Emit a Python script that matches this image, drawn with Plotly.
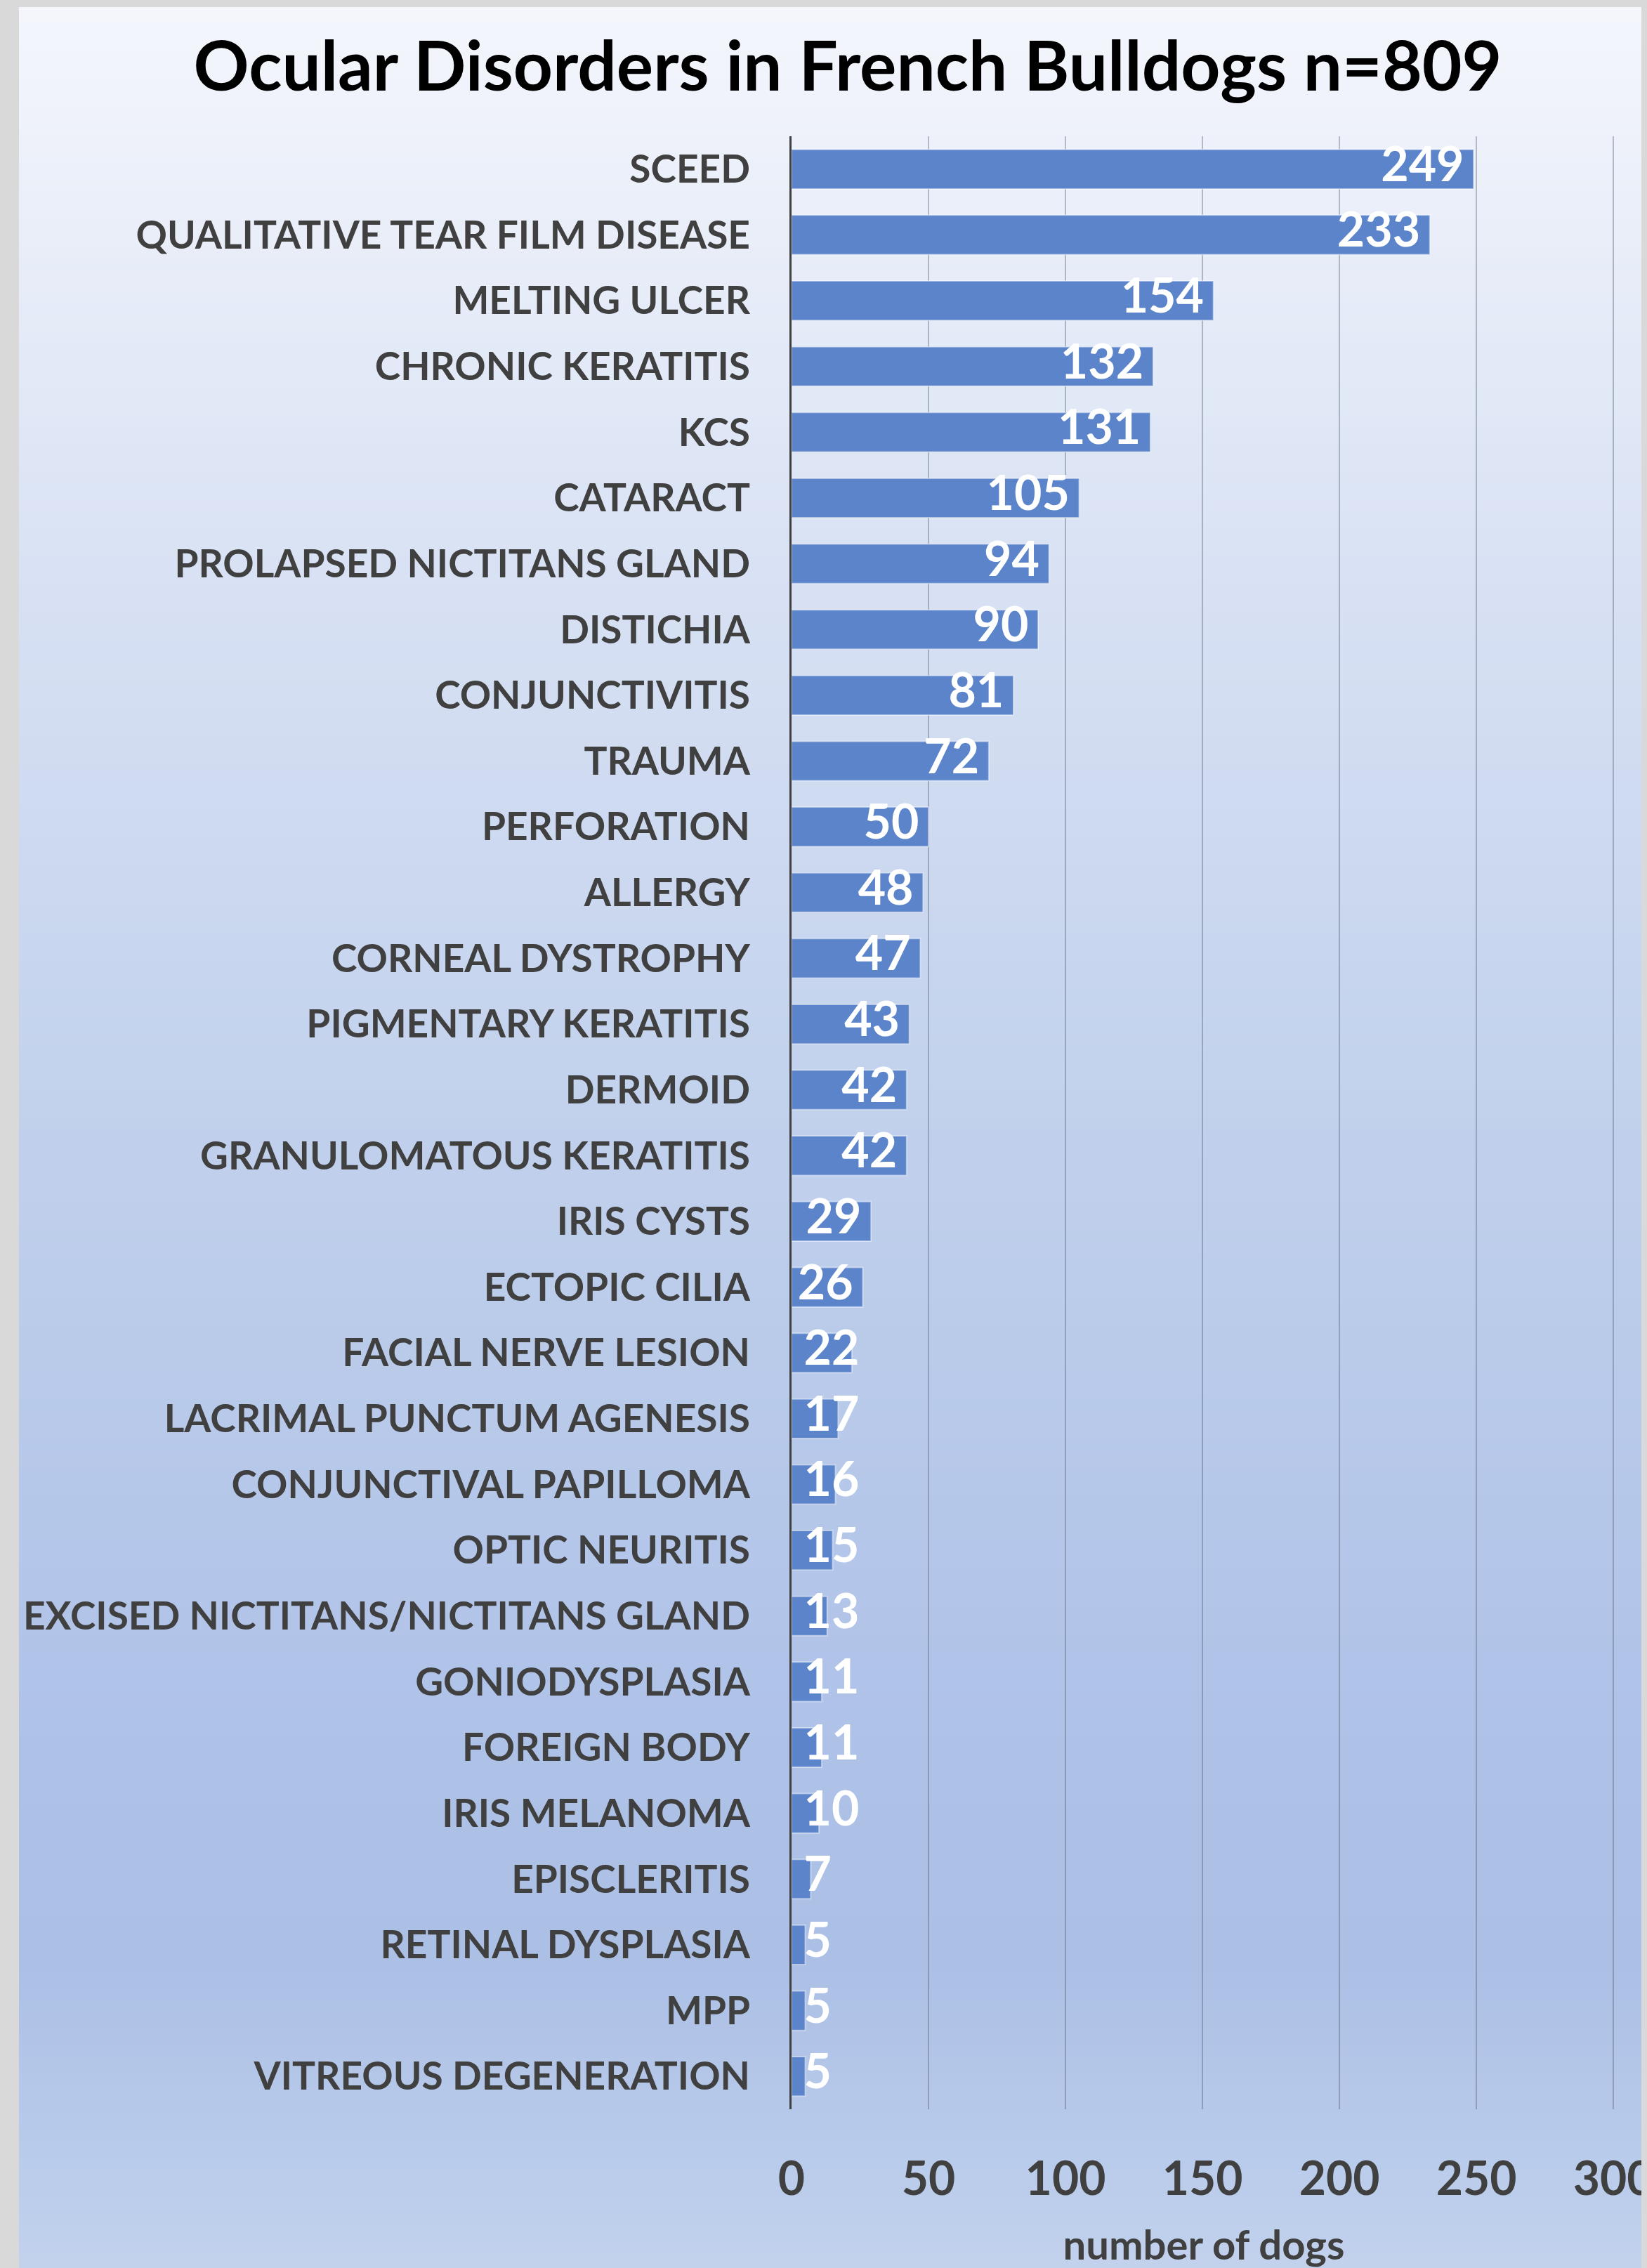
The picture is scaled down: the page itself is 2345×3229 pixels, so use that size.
import plotly.graph_objects as go

categories = [
    "SCEED", "QUALITATIVE TEAR FILM DISEASE", "MELTING ULCER", "CHRONIC KERATITIS",
    "KCS", "CATARACT", "PROLAPSED NICTITANS GLAND", "DISTICHIA", "CONJUNCTIVITIS",
    "TRAUMA", "PERFORATION", "ALLERGY", "CORNEAL DYSTROPHY", "PIGMENTARY KERATITIS",
    "DERMOID", "GRANULOMATOUS KERATITIS", "IRIS CYSTS", "ECTOPIC CILIA",
    "FACIAL NERVE LESION", "LACRIMAL PUNCTUM AGENESIS", "CONJUNCTIVAL PAPILLOMA",
    "OPTIC NEURITIS", "EXCISED NICTITANS/NICTITANS GLAND", "GONIODYSPLASIA",
    "FOREIGN BODY", "IRIS MELANOMA", "EPISCLERITIS", "RETINAL DYSPLASIA", "MPP",
    "VITREOUS DEGENERATION",
]
values = [249, 233, 154, 132, 131, 105, 94, 90, 81, 72, 50, 48, 47, 43, 42, 42,
          29, 26, 22, 17, 16, 15, 13, 11, 11, 10, 7, 5, 5, 5]
x_ticks = [0, 50, 100, 150, 200, 250, 300]
title_text = "Ocular Disorders in French Bulldogs n=809"
x_title = "number of dogs"

OFF = 8  # page body margin
W, H = 2345, 3229
L, T = 1127 - OFF, 194 - OFF
PLOT_W, PLOT_H = 1174, 2809
R = W - L - PLOT_W
B = H - T - PLOT_H
FONT = "Lato, 'Open Sans', sans-serif"
TXT = "#404040"

# background gradient via thin stacked rectangles (paper coords); page pixel stops
stops = [(10, (244, 246, 252)), (800, (217, 226, 244)), (1630, (192, 208, 236)),
         (2500, (174, 193, 231)), (2800, (172, 192, 230)), (3229, (194, 210, 237))]

def py(p):  # page pixel y -> paper
    return (T + PLOT_H - (p - OFF)) / PLOT_H

def px(q):  # page pixel x -> paper
    return ((q - OFF) - L) / PLOT_W

def color_at(p):
    for (p0, c0), (p1, c1) in zip(stops[:-1], stops[1:]):
        if p0 <= p <= p1:
            t = (p - p0) / (p1 - p0)
            return "rgb(%d,%d,%d)" % tuple(round(a + (b - a) * t) for a, b in zip(c0, c1))
    return "rgb(%d,%d,%d)" % stops[-1][1]

shapes = []
step = 20
for p in range(10, H + 20, step):
    shapes.append(dict(type="rect", xref="paper", yref="paper", layer="below",
                       x0=px(27), x1=px(W + 20), y0=py(p + step + 1), y1=py(p),
                       fillcolor=color_at(p + step / 2), line=dict(width=0)))

fig = go.Figure()
fig.add_trace(go.Bar(
    x=values, y=categories, orientation="h",
    marker=dict(color="#5b84cb", line=dict(color="rgba(255,255,255,0.45)", width=2)),
    width=0.6, hoverinfo="skip",
))

# data labels: right-aligned inside bar end, or left-aligned near axis for short bars
lab_x, lab_pos = [], []
for v in values:
    if v > 25:
        lab_x.append(v - 3.5)
        lab_pos.append("middle left")
    else:
        lab_x.append(4.5)
        lab_pos.append("middle right")
fig.add_trace(go.Scatter(
    x=lab_x, y=categories, mode="text", text=[str(v) for v in values],
    textposition=lab_pos, textfont=dict(family=FONT, size=68, color="white", weight="bold"),
    hoverinfo="skip", cliponaxis=False,
))

fig.update_layout(
    width=W, height=H,
    margin=dict(l=L, r=R, t=T, b=B, autoexpand=False),
    paper_bgcolor="#d9d9d9", plot_bgcolor="rgba(0,0,0,0)",
    showlegend=False, shapes=shapes,
    title=dict(text=title_text, x=(1207 - OFF) / W, xanchor="center", xref="container",
               y=1 - (95 - OFF) / H, yanchor="middle", yref="container",
               font=dict(family=FONT, size=98, color="black", weight="bold")),
    xaxis=dict(range=[0, 301], tickvals=x_ticks, showgrid=True,
               gridcolor="rgba(70,80,100,0.35)", gridwidth=2, zeroline=False,
               showline=False, ticks="", ticklabelstandoff=55, ticklabeloverflow="allow",
               tickfont=dict(family=FONT, size=66, color=TXT, weight="bold"),
               title=dict(text=x_title, standoff=38,
                          font=dict(family=FONT, size=58, color=TXT, weight="bold"))),
    yaxis=dict(type="category", categoryorder="array", categoryarray=categories,
               range=[len(categories) - 0.5, -0.5],
               showline=True, linecolor=TXT, linewidth=3, showgrid=False, ticks="",
               ticklabelstandoff=45, ticklabeloverflow="allow",
               tickfont=dict(family=FONT, size=55, color=TXT, weight="bold")),
)

fig.write_html("out.html", post_script="document.body.style.background='#d9d9d9';")
